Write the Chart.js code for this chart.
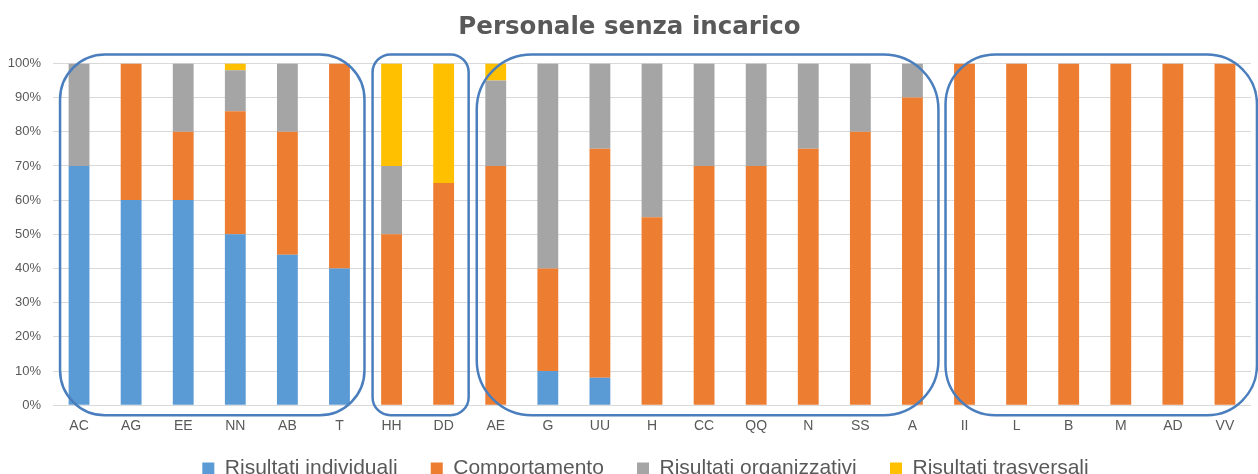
<!DOCTYPE html>
<html>
<head>
<meta charset="utf-8">
<script src="https://cdn.jsdelivr.net/npm/chart.js@4/dist/chart.umd.min.js"></script>
<style>
  html, body { margin: 0; padding: 0; background: #fff; overflow: hidden; }
  #chart { display: block; }
</style>
</head>
<body>
<canvas id="chart" width="1258" height="487"></canvas>
<script>
// Categories and series values (percent)
const categories = ['AC', 'AG', 'EE', 'NN', 'AB', 'T', 'HH', 'DD', 'AE', 'G', 'UU', 'H', 'CC', 'QQ', 'N', 'SS', 'A', 'II', 'L', 'B', 'M', 'AD', 'VV'];
const individuali   = [70, 60, 60, 50, 44, 40, 0, 0, 0, 10, 8, 0, 0, 0, 0, 0, 0, 0, 0, 0, 0, 0, 0];
const comportamento = [0, 40, 20, 36, 36, 60, 50, 65, 70, 30, 67, 55, 70, 70, 75, 80, 90, 100, 100, 100, 100, 100, 100];
const organizzativi = [30, 0, 20, 12, 20, 0, 20, 0, 25, 60, 25, 45, 30, 30, 25, 20, 10, 0, 0, 0, 0, 0, 0];
const trasversali   = [0, 0, 0, 2, 0, 0, 30, 35, 5, 0, 0, 0, 0, 0, 0, 0, 0, 0, 0, 0, 0, 0, 0];
const seriesNames = ['Risultati individuali', 'Comportamento', 'Risultati organizzativi', 'Risultati trasversali'];

// Groups framed by rounded boxes: first index, last index
const groups = [[0, 5], [6, 7], [8, 16], [17, 22]];
const groupRadius = [45, 18, 55, 50];
const groupPadRight = [25, 25, 26, 32];

// Draws the rounded frames around the groups of bars
const groupFrames = {
    id: 'groupFrames',
    afterLayout(chart) {
        // nudge the legend a little, as in the original
        chart.legend.left += 16;
        chart.legend.right += 16;
        chart.legend.top += 2;
        chart.legend.bottom += 2;
    },
    afterDatasetsDraw(chart) {
        const x = chart.scales.x;
        const y = chart.scales.y;
        const ctx = chart.ctx;
        const top = y.getPixelForValue(100) - 9;
        const bottom = y.getPixelForValue(0) + 10;
        ctx.save();
        ctx.strokeStyle = '#4a7ebd';
        ctx.lineWidth = 2.5;
        groups.forEach((g, i) => {
            const left = x.getPixelForValue(g[0]) - 19;
            const right = x.getPixelForValue(g[1]) + groupPadRight[i];
            ctx.beginPath();
            ctx.roundRect(left, top, right - left, bottom - top, groupRadius[i]);
            ctx.stroke();
        });
        ctx.restore();
    }
};

const ctx = document.getElementById('chart').getContext('2d');
new Chart(ctx, {
    type: 'bar',
    data: {
        labels: categories,
        datasets: [
            { label: seriesNames[0], data: individuali, backgroundColor: '#5b9bd5' },
            { label: seriesNames[1], data: comportamento, backgroundColor: '#ed7d31' },
            { label: seriesNames[2], data: organizzativi, backgroundColor: '#a5a5a5' },
            { label: seriesNames[3], data: trasversali, backgroundColor: '#ffc000' }
        ]
    },
    options: {
        responsive: false,
        animation: false,
        devicePixelRatio: 1,
        categoryPercentage: 0.8,
        barPercentage: 0.5,
        layout: { padding: { left: 8, right: 7, top: 0, bottom: 0 } },
        plugins: {
            title: {
                display: true,
                text: 'Personale senza incarico',
                color: '#595959',
                font: { family: 'DejaVu Sans', size: 24.5, weight: 'bold' },
                padding: { top: 13, bottom: 21 }
            },
            legend: {
                position: 'bottom',
                labels: {
                    color: '#595959',
                    font: { family: 'Liberation Sans', size: 21 },
                    boxWidth: 12,
                    boxHeight: 12,
                    padding: 8,
                    // wider gaps between the items, like the original
                    generateLabels(chart) {
                        const items = Chart.defaults.plugins.legend.labels.generateLabels(chart);
                        return items.map((l, i) => Object.assign(l, {
                            text: i < items.length - 1 ? l.text + '\u2002\u2002\u2009' : l.text
                        }));
                    }
                }
            },
            tooltip: { enabled: false }
        },
        scales: {
            x: {
                stacked: true,
                grid: { display: false, drawTicks: false },
                border: { display: false },
                ticks: {
                    color: '#595959',
                    font: { family: 'Liberation Sans', size: 14 },
                    padding: 13,
                    maxRotation: 0
                }
            },
            y: {
                stacked: true,
                min: 0,
                max: 100,
                grid: { color: '#d9d9d9', lineWidth: 1, drawTicks: false },
                border: { display: false },
                ticks: {
                    stepSize: 10,
                    color: '#595959',
                    font: { family: 'Liberation Sans', size: 13 },
                    padding: 12,
                    callback: v => v + '%'
                },
                afterFit(scale) { scale.width = 45; }
            }
        }
    },
    plugins: [groupFrames]
});
</script>
</body>
</html>
